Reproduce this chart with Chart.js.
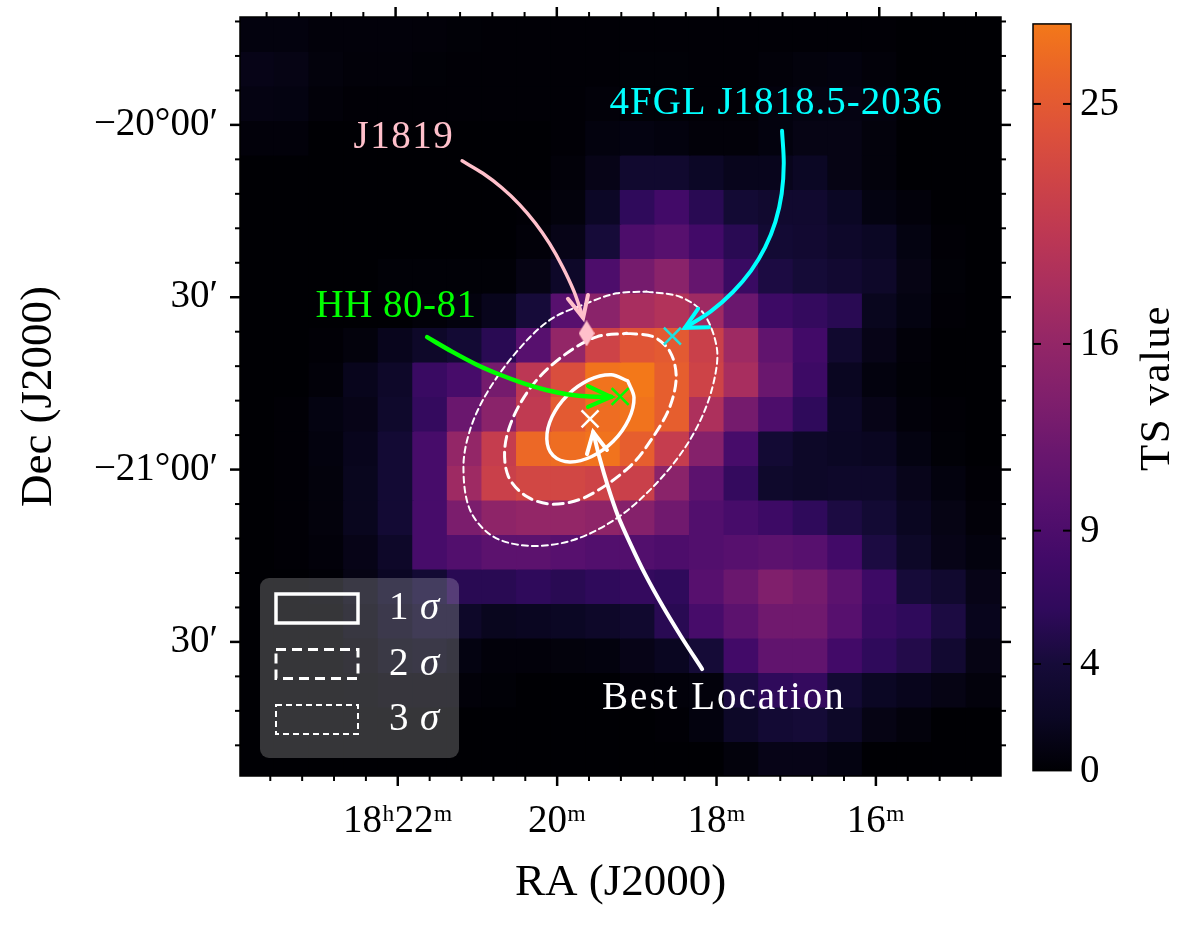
<!DOCTYPE html>
<html>
<head>
<meta charset="utf-8">
<title>TS map</title>
<script src="https://cdn.jsdelivr.net/npm/chart.js@4"></script>
<style>
  html, body { margin: 0; padding: 0; background: #fff; }
  canvas { display: block; }
</style>
</head>
<body>
<canvas id="tsMap" width="1200" height="927"></canvas>
<script>
// TS values per map cell, top row first, left column first
const tsRow00 = [0.6,0.6,0.4,0.4,0.4,0.3,0.2,0.1,0.1,0.1,0.1,0.1,0.1,0.1,0.1,0.1,0.1,0.1,0.1,0,0,0];
const tsRow01 = [1.2,1,0.5,0.3,0.3,0.2,0.1,0.1,0.1,0.1,0.1,0.2,0.2,0.1,0.1,0.3,0.5,0.6,0.3,0,0,0];
const tsRow02 = [0.9,0.8,0.3,0.1,0.1,0.1,0.1,0.1,0.1,0.1,0.3,0.2,0.2,0.1,0.1,0.6,0.8,0.9,0.6,0,0,0];
const tsRow03 = [0.4,0.4,0,0,0,0,0,0,0,0.1,0.6,0.8,0.6,0.3,0.3,0.6,1,1,0.5,0,0,0];
const tsRow04 = [0,0,0,0,0,0,0,0,0,0.3,1.2,3,3,2.2,1.5,1.5,2,1,0.5,0,0,0];
const tsRow05 = [0,0,0,0,0,0,0,0,0.1,0.5,2.2,6,8,5.5,3.5,3,3,2,0.8,0.4,0,0];
const tsRow06 = [0,0,0,0,0,0,0,0,0.3,1.2,4,9,10,8,5.5,3.5,3.2,2.6,2,0.8,0.1,0];
const tsRow07 = [0,0,0,0,0.2,0.2,0.2,0.2,1,2.5,9,13,15,11.5,7,4.5,3.8,3.2,2.5,1,0.2,0];
const tsRow08 = [0,0,0,0,0,0.3,0.6,1.5,4,10,15,18,19,17,12,7.5,6.5,5.5,1.6,0.8,0.1,0];
const tsRow09 = [0,0,0.1,0.5,1.5,2.5,3.5,5.5,10,16,22,24.5,25,21.5,17,11,8,3,1.2,0.3,0,0];
const tsRow10 = [0,0,0.3,1.5,2.5,7,8.5,13,20,23.5,27.5,28,25.5,22,18,12,7.5,1.8,0.6,0.2,0,0];
const tsRow11 = [0,0.1,0.8,1.2,2.8,6.5,12,15,20.5,25,27,27.5,25.5,18.5,13,9,6,2.2,1.2,0.4,0.1,0];
const tsRow12 = [0,0.1,0.6,1.5,3.5,8.5,16,21,26.5,27,27.5,25.5,21,14.5,8.5,3.5,2.4,2,1.8,0.8,0.2,0];
const tsRow13 = [0,0.1,0.5,1.6,3.5,8.5,17,21.5,22.5,22.5,22,21.5,15,10.5,6.5,2.8,2.4,2.6,2.6,1.4,0.6,0.1];
const tsRow14 = [0,0.1,0.5,1.6,3.5,8.5,13.5,15.5,16,16,15.5,14.5,12.5,9.5,8.5,7.5,6,4.5,3.5,1.8,1,0.3];
const tsRow15 = [0,0.1,0.4,1.2,2.5,8.5,9.5,10.5,10.5,10,9.5,9.5,9,9.5,10,10.5,10,8,4.5,2.4,1.2,0.6];
const tsRow16 = [0,0,0.2,1,2,3.5,5.5,5.5,6,5.5,6,6.5,6,10,12,14,13,10.5,7.5,4,3,1.2];
const tsRow17 = [0,0,0,0.6,1.5,2.5,2.5,1.6,1.8,2,2.5,3,5.5,8.5,10.5,12.5,12.5,10,7,6,4.5,1.5];
const tsRow18 = [0,0,0,0.3,1,1.2,0.8,0.4,0.4,0.5,0.6,1.2,1.8,3.8,8,11,11,8,6,5,3.2,1];
const tsRow19 = [0,0,0,0.1,0.4,0.4,0.3,0.2,0,0,0,0.3,0.4,0.5,4.5,6,6.5,3.5,2,1.5,1,0.5];
const tsRow20 = [0,0,0,0,0,0,0,0,0,0,0,0,0.1,0.6,2.4,3.5,3.8,2.4,1,0.5,0,0];
const tsRow21 = [0,0,0,0,0,0,0,0,0,0,0,0,0,0,0.5,1.2,1.2,0.8,0,0,0,0];
const tsRows = [tsRow00,tsRow01,tsRow02,tsRow03,tsRow04,tsRow05,tsRow06,tsRow07,tsRow08,tsRow09,tsRow10,
                tsRow11,tsRow12,tsRow13,tsRow14,tsRow15,tsRow16,tsRow17,tsRow18,tsRow19,tsRow20,tsRow21];

// Contours and sources in map cell coordinates
const contour1Sigma = [[11.21,10.55],[10.73,10.37],[10.09,10.52],[9.46,10.97],[9.02,11.59],[8.87,12.23],[9.05,12.71],[9.53,12.90],[10.17,12.74],[10.79,12.30],[11.24,11.66],[11.39,11.03],[11.21,10.55]];
const contour2Sigma = [[11.18,9.17],[11.95,9.27],[12.43,9.70],[12.61,10.42],[12.43,11.29],[11.95,12.16],[11.27,13.03],[10.02,13.90],[9.06,14.12],[8.29,13.90],[7.76,13.32],[7.66,12.45],[7.95,11.49],[8.58,10.52],[9.44,9.75],[10.31,9.27],[11.18,9.17]];
const contour3Sigma = [[11.76,7.96],[12.72,8.11],[13.40,8.59],[13.78,9.56],[13.73,10.42],[13.40,11.49],[12.82,12.55],[11.95,13.61],[10.89,14.53],[9.64,15.16],[8.38,15.33],[7.32,15.06],[6.65,14.29],[6.46,13.03],[6.65,11.97],[7.13,10.91],[8.00,9.70],[8.96,8.78],[10.02,8.30],[10.89,8.01],[11.76,7.96]];

const bestLocation = [10.12,11.65];
const hhSource = [10.99,11.00];
const fglSource = [12.50,9.25];
const j1819Source = [10.02,9.17];

const arrowJ1819 = [[6.42,4.17],[7.02,4.53],[7.57,4.95],[8.075,5.43],[8.535,5.97],[8.95,6.57],[9.32,7.23],[9.65,7.94],[9.92,8.72]];
const headJ1819 = [[9.48,8.17],[9.92,8.72],[10.06,8.06]];
const arrowFgl = [[15.67,3.30],[15.72,4.24],[15.66,5.12],[15.48,5.93],[15.18,6.68],[14.77,7.36],[14.25,7.97],[13.61,8.53],[12.86,9.01]];
const headFgl = [[13.24,8.46],[12.86,9.01],[13.56,8.99]];
const arrowHH = [[5.41,9.28],[6.13,9.70],[6.83,10.07],[7.52,10.37],[8.20,10.62],[8.85,10.81],[9.50,10.94],[10.11,11.00],[10.73,11.01]];
const headHH = [[10.06,10.70],[10.73,11.01],[10.06,11.30]];
const arrowBest = [[13.36,18.90],[12.76,17.97],[12.21,17.06],[11.71,16.15],[11.30,15.30],[10.92,14.44],[10.64,13.62],[10.40,12.80],[10.21,12.03]];
const headBest = [[10.03,12.67],[10.21,12.03],[10.61,12.55]];

const noteTexts = ['J1819','4FGL J1818.5-2036','HH 80-81','Best Location'];
const noteCells = [[4.74,3.51],[15.50,2.52],[4.51,8.41],[13.99,19.76]];

// Axes
const raMajorTicks = [22,20,18,16];
const raMinorTicks = [23.6,23.2,22.8,22.4,21.6,21.2,20.8,20.4,19.6,19.2,18.8,18.4,17.6,17.2,16.8,16.4,15.6,15.2,14.8];
const raTickLabels = ['18ʰ22ᵐ','20ᵐ','18ᵐ','16ᵐ'];
const decMajorTicks = [-20,-20.5,-21,-21.5];
const decMinorTicks = [-19.7,-19.8,-19.9,-20.1,-20.2,-20.3,-20.4,-20.6,-20.7,-20.8,-20.9,-21.1,-21.2,-21.3,-21.4,-21.6,-21.7,-21.8];
const decTickLabels = ['−20°00′','30′','−21°00′','30′'];
const tsTicks = [0,4,9,16,25];
const tsMax = 28;
const legendLabels = ['1','2','3'];

const SERIF = '"Liberation Serif"';
const TEXT_SIZE = 39;
const TITLE_SIZE = 45;
const noteColors = ['#ffc0cb','#00ffff','#00ff00','#ffffff'];
const noteSpacing = ['1.5px','1px','0.5px','2px'];

// inferno colormap, cut at 0.7 of its range
const cmap = ['#000004','#0b0724','#160b39','#2f0a5b','#420a68','#57106e','#6a176e','#801f6c','#932667','#a82e5f','#bc3754','#cd4347','#dd513a','#e9622a','#f37819'];

function hexToRgb(hex) {
    return [1,3,5].map(i => parseInt(hex.slice(i, i + 2), 16));
}

function colorFor(value) {
    const pos = Math.min(value / tsMax, 1) * (cmap.length - 1);
    const low = Math.floor(pos);
    const high = Math.min(low + 1, cmap.length - 1);
    const a = hexToRgb(cmap[low]);
    const b = hexToRgb(cmap[high]);
    const f = pos - low;
    return `rgb(${a.map((c, i) => Math.round(c + (b[i] - c) * f)).join(',')})`;
}

const toPoints = (pairs) => pairs.map(p => ({ x: p[0], y: p[1] }));

function overlayLine(pairs, color, width, dash) {
    return {
        type: 'scatter', showLine: true, data: toPoints(pairs), xAxisID: 'xCell', yAxisID: 'yCell',
        borderColor: color, borderWidth: width, borderDash: dash || [], tension: 0.33,
        pointRadius: 0, borderCapStyle: 'round', fill: false
    };
}

function arrowHead(pairs, color) {
    const ds = overlayLine(pairs, color, 4);
    ds.tension = 0;
    return ds;
}

function crossMarker(pair, color) {
    return {
        type: 'scatter', data: toPoints([pair]), xAxisID: 'xCell', yAxisID: 'yCell',
        pointStyle: 'crossRot', pointRadius: 12, pointBorderColor: color, pointBorderWidth: 2.5
    };
}

// Narrow diamond, rectRot would be too wide
function diamondSprite(color) {
    const c = document.createElement('canvas');
    c.width = 16;
    c.height = 26;
    const g = c.getContext('2d');
    g.fillStyle = color;
    g.beginPath();
    g.moveTo(8, 0); g.lineTo(16, 13); g.lineTo(8, 26); g.lineTo(0, 13);
    g.closePath();
    g.fill();
    return c;
}

const overlays = [
    crossMarker(bestLocation, '#ffffff'),
    crossMarker(hhSource, '#00ff00'),
    crossMarker(fglSource, '#1fdfdf'),
    { type: 'scatter', data: toPoints([j1819Source]), xAxisID: 'xCell', yAxisID: 'yCell', pointStyle: diamondSprite('#ffc0cb') },
    arrowHead(headBest, '#ffffff'), overlayLine(arrowBest, '#ffffff', 4),
    arrowHead(headHH, '#00ff00'), overlayLine(arrowHH, '#00ff00', 4.5),
    arrowHead(headFgl, '#00ffff'), overlayLine(arrowFgl, '#00ffff', 4),
    arrowHead(headJ1819, '#ffc0cb'), overlayLine(arrowJ1819, '#ffc0cb', 3.5),
    overlayLine(contour1Sigma, '#ffffff', 3.5),
    overlayLine(contour2Sigma, '#ffffff', 3, [10, 6]),
    overlayLine(contour3Sigma, '#ffffff', 2, [6, 4])
];

// One floating bar per map cell, one dataset per row
const cellRows = tsRows.map((row, r) => ({
    type: 'bar', grouped: false, barThickness: 35, borderWidth: 0, inflateAmount: 0.5, xAxisID: 'xCell', yAxisID: 'yCell',
    data: row.map((v, c) => ({ x: c + 0.5, y: [r, r + 1] })),
    backgroundColor: row.map(colorFor)
}));

function tickMark(g, x1, y1, x2, y2, width) {
    g.lineWidth = width;
    g.beginPath();
    g.moveTo(x1, y1);
    g.lineTo(x2, y2);
    g.stroke();
}

const notesAndLegend = {
    id: 'notesAndLegend',
    afterDatasetsDraw(chart) {
        const g = chart.ctx;
        const { xCell, yCell } = chart.scales;
        g.save();
        g.textBaseline = 'middle';
        g.textAlign = 'center';
        g.font = `${TEXT_SIZE}px ${SERIF}`;
        noteTexts.forEach((t, i) => {
            g.fillStyle = noteColors[i];
            g.letterSpacing = noteSpacing[i];
            g.fillText(t, xCell.getPixelForValue(noteCells[i][0]), yCell.getPixelForValue(noteCells[i][1]));
        });
        g.letterSpacing = '0px';

        // legend box with the three contour styles
        g.fillStyle = 'rgba(255,255,255,0.21)';
        g.beginPath();
        g.roundRect(260, 578, 199, 180, 9);
        g.fill();
        const styles = [[3.5, []], [3, [10, 6]], [2, [6, 4]]];
        legendLabels.forEach((label, i) => {
            const top = 594 + i * 55.5;
            g.strokeStyle = '#ffffff';
            g.lineWidth = styles[i][0];
            g.setLineDash(styles[i][1]);
            g.strokeRect(276, top, 82, 29);
            g.setLineDash([]);
            g.fillStyle = '#ffffff';
            g.textAlign = 'left';
            g.font = `${TEXT_SIZE}px ${SERIF}`;
            g.fillText(label, 389, top + 15);
            g.font = `italic ${TEXT_SIZE}px ${SERIF}`;
            g.fillText('σ', 420, top + 15);
        });
        g.restore();
    }
};

const frameAndColorbar = {
    id: 'frameAndColorbar',
    afterDraw(chart) {
        const g = chart.ctx;
        const { left, right, top, bottom } = chart.chartArea;
        const { xRa, xTop, yDec, cb } = chart.scales;
        g.save();
        g.strokeStyle = '#000000';
        g.lineCap = 'butt';
        g.lineWidth = 1.5;
        g.strokeRect(left, top, right - left, bottom - top);

        // ticks on all four sides
        const xTicks = (list, len, width) => list.forEach(v => {
            const b = xRa.getPixelForValue(v);
            const t = xTop.getPixelForValue(v);
            tickMark(g, b, bottom, b, bottom + len, width);
            tickMark(g, t, top, t, top - len, width);
        });
        const yTicks = (list, len, width) => list.forEach(v => {
            const p = yDec.getPixelForValue(v);
            tickMark(g, left, p, left - len, p, width);
            tickMark(g, right, p, right + len, p, width);
        });
        xTicks(raMajorTicks, 10, 2.5);
        xTicks(raMinorTicks, 5, 2);
        yTicks(decMajorTicks, 10, 2.5);
        yTicks(decMinorTicks, 5, 2);

        // colorbar
        const barLeft = 1033, barRight = 1071;
        const y0 = cb.getPixelForValue(0);
        const y1 = cb.getPixelForValue(tsMax);
        const grad = g.createLinearGradient(0, y0, 0, y1);
        cmap.forEach((c, i) => grad.addColorStop(i / (cmap.length - 1), c));
        g.fillStyle = grad;
        g.fillRect(barLeft, y1, barRight - barLeft, y0 - y1);
        g.lineWidth = 1.5;
        g.strokeRect(barLeft, y1, barRight - barLeft, y0 - y1);

        g.fillStyle = '#000000';
        g.font = `${TEXT_SIZE}px ${SERIF}`;
        g.textBaseline = 'middle';
        g.textAlign = 'left';
        tsTicks.forEach(v => {
            const p = cb.getPixelForValue(v);
            if (v > 0) {
                tickMark(g, barLeft, p, barLeft + 8, p, 2);
                tickMark(g, barRight, p, barRight - 8, p, 2);
            }
            g.fillText(String(v), 1080, p + 1);
        });

        g.translate(1158, 388);
        g.rotate(-Math.PI / 2);
        g.textAlign = 'center';
        g.font = `${TITLE_SIZE - 2}px ${SERIF}`;
        g.letterSpacing = '1.5px';
        g.fillText('TS value', 0, 0);
        g.restore();
    }
};

new Chart(document.getElementById('tsMap'), {
    type: 'scatter',
    data: { datasets: overlays.concat(cellRows) },
    options: {
        responsive: false,
        animation: false,
        layout: { padding: { left: 0, top: 17, right: 199, bottom: 0 } },
        plugins: { legend: { display: false }, tooltip: { enabled: false } },
        scales: {
            xCell: { type: 'linear', axis: 'x', display: false, offset: false, min: 0, max: 22 },
            yCell: { type: 'linear', axis: 'y', display: false, reverse: true, min: 0, max: 22 },
            // sky projection: the top axis runs a bit faster than the bottom one
            xTop: { type: 'linear', axis: 'x', position: 'top', display: false, reverse: true, min: 14.49, max: 23.93 },
            cb: { type: 'linear', axis: 'y', position: 'right', display: false, min: -0.2, max: 28.26 },
            xRa: {
                type: 'linear', axis: 'x', position: 'bottom', reverse: true, min: 14.43, max: 23.98, offset: false,
                afterFit: (s) => { s.height = 151; s.paddingLeft = 0; s.paddingRight = 0; },
                afterBuildTicks: (s) => { s.ticks = raMajorTicks.map(v => ({ value: v })); },
                grid: { display: false, drawTicks: false },
                border: { display: false },
                ticks: {
                    autoSkip: false, maxRotation: 0, padding: 22, color: '#000',
                    font: { family: SERIF, size: TEXT_SIZE },
                    callback: (v, i) => raTickLabels[i]
                },
                title: { display: true, text: 'RA (J2000)', color: '#000', font: { family: SERIF, size: TITLE_SIZE }, padding: { top: 0, bottom: 17 } }
            },
            yDec: {
                type: 'linear', axis: 'y', position: 'left', min: -21.889, max: -19.687,
                afterFit: (s) => { s.width = 240; s.paddingTop = 0; s.paddingBottom = 0; },
                afterBuildTicks: (s) => { s.ticks = decMajorTicks.map(v => ({ value: v })); },
                grid: { display: false, drawTicks: false },
                border: { display: false },
                ticks: {
                    autoSkip: false, padding: 22, color: '#000',
                    font: { family: SERIF, size: TEXT_SIZE },
                    callback: (v, i) => decTickLabels[i]
                },
                title: { display: true, text: 'Dec (J2000)', color: '#000', font: { family: SERIF, size: TITLE_SIZE }, padding: { top: 12, bottom: 0 } }
            }
        }
    },
    plugins: [notesAndLegend, frameAndColorbar]
});
</script>
</body>
</html>
